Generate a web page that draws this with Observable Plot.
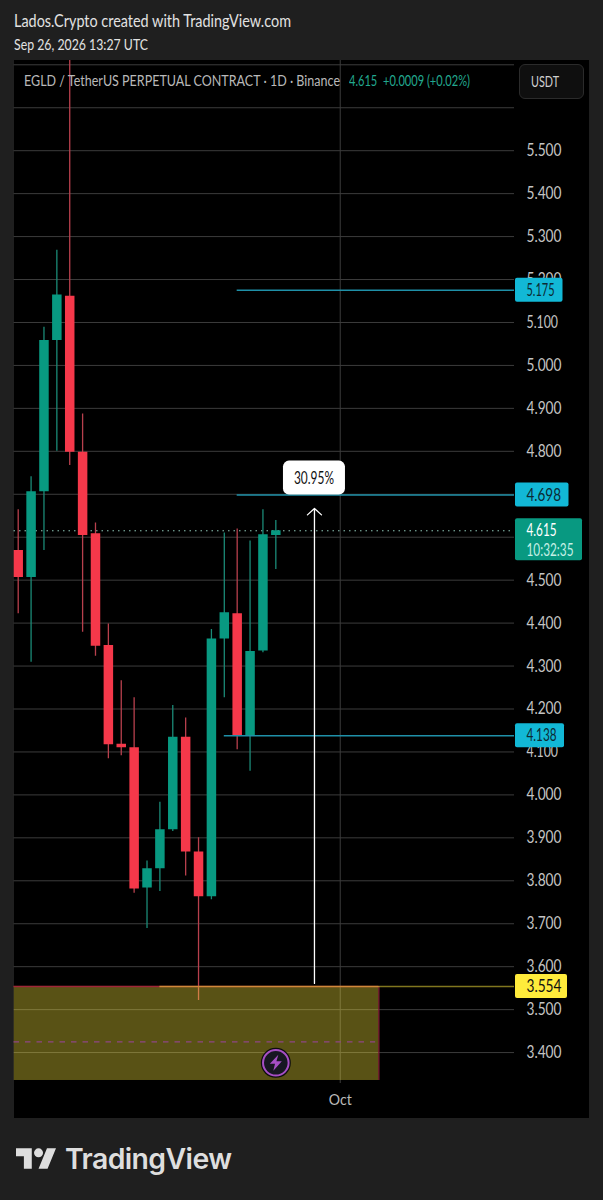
<!DOCTYPE html>
<html>
<head>
<meta charset="utf-8">
<script src="https://cdn.jsdelivr.net/npm/d3@7"></script>
<script src="https://cdn.jsdelivr.net/npm/@observablehq/plot@0.6"></script>
<style>
html,body{margin:0;padding:0;background:#1f1f1f;width:603px;height:1200px;overflow:hidden;}
#page{position:relative;width:603px;height:1200px;font-family:Lato,"Noto Sans",sans-serif;}
.abs{position:absolute;white-space:nowrap;}
.fit{transform-origin:0 50%;}
#panel{left:13.5px;top:60px;width:575.5px;height:1058px;background:#000;}
#chart{left:0;top:60px;}
#chart svg{display:block;max-width:none;}
</style>
</head>
<body>
<div id="page">
  <div class="abs fit" data-w="277" style="left:13.5px;top:11px;font-size:17px;line-height:20px;color:#e2e2e2;">Lados.Crypto created with TradingView.com</div>
  <div class="abs fit" data-w="134" style="left:13.5px;top:34px;font-size:16px;line-height:20px;color:#e2e2e2;">Sep 26, 2026 13:27 UTC</div>
  <div class="abs" id="panel"></div>
  <div class="abs" id="chart"></div>
  <div class="abs fit" data-w="316" style="left:24px;top:70px;font-size:15.5px;line-height:20px;color:#b9b9b9;">EGLD / TetherUS PERPETUAL CONTRACT · 1D · Binance</div>
  <div class="abs fit" data-w="121" style="left:349px;top:70px;font-size:15.5px;line-height:20px;color:#22a88f;">4.615 &nbsp;+0.0009 (+0.02%)</div>
  <div class="abs" style="left:519px;top:64px;width:65px;height:35px;box-sizing:border-box;border:1px solid #2b2b2b;border-radius:6px;background:#0f0f0f;"></div>
  <div class="abs fit" data-w="28" style="left:531px;top:71px;font-size:16px;line-height:20px;color:#cfcfcf;">USDT</div>
  <svg class="abs" style="left:16px;top:1148px;" width="40" height="21" viewBox="0 4 35.5 18"><path fill="#dedede" d="M14 22H7V11H0V4h14v18zM28 22h-8l7.5-18h8L28 22z"/><circle fill="#dedede" cx="20" cy="8" r="4"/></svg>
  <div class="abs" style="left:65px;top:1142px;font-family:Inter,sans-serif;font-weight:600;font-size:28.4px;line-height:34px;letter-spacing:-0.6px;color:#dedede;">TradingView</div>
</div>
<script>
// Daily candles, prices in USDT
const days   = ["2026-09-06","2026-09-07","2026-09-08","2026-09-09","2026-09-10","2026-09-11","2026-09-12","2026-09-13","2026-09-14","2026-09-15","2026-09-16","2026-09-17","2026-09-18","2026-09-19","2026-09-20","2026-09-21","2026-09-22","2026-09-23","2026-09-24","2026-09-25","2026-09-26"];
const opens  = [4.569,4.506,4.706,5.058,5.161,4.798,4.608,4.348,4.118,4.110,3.783,3.828,3.919,4.134,3.867,3.763,4.363,4.422,4.138,4.335,4.604];
const highs  = [4.664,4.741,5.089,5.268,5.760,4.887,4.633,4.398,4.266,4.226,3.846,3.983,4.208,4.179,3.900,4.385,4.610,4.619,4.591,4.664,4.639];
const lows   = [4.422,4.309,4.569,4.800,4.767,4.379,4.323,4.084,4.091,3.771,3.689,3.775,3.915,3.811,3.521,3.756,4.226,4.105,4.055,4.331,4.525];
const closes = [4.506,4.706,5.058,5.164,4.798,4.604,4.346,4.117,4.110,3.781,3.828,3.919,4.134,3.867,3.763,4.363,4.424,4.138,4.334,4.606,4.615];

const gridTicks  = [3.4,3.5,3.6,3.7,3.8,3.9,4.0,4.1,4.2,4.3,4.4,4.5,4.6,4.7,4.8,4.9,5.0,5.1,5.2,5.3,5.4,5.5,5.6,5.7];
const axisTicks  = [3.4,3.5,3.6,3.7,3.8,3.9,4.0,4.1,4.2,4.3,4.4,4.5,4.8,4.9,5.0,5.1,5.2,5.3,5.4,5.5];
const lastPrice  = 4.615;
const levels     = [{price:5.175,from:"2026-09-23"},{price:4.698,from:"2026-09-23"},{price:4.138,from:"2026-09-22"}];
const support    = {price:3.554,from:"2026-09-17"};
const zone       = {top:3.554,bottom:3.335,mid:3.425,end:"2026-10-04",midEnd:"2026-10-03T18:00"};
const move       = {day:"2026-09-29",from:3.561,to:4.667,label:"30.95%"};
const iconPoint  = {day:"2026-09-26",price:3.375};
const monthTick  = "2026-10-01";

const D = s => new Date(s.length > 10 ? s + "Z" : s + "T00:00Z");
const candles = days.map((d,i)=>({date:D(d),open:opens[i],high:highs[i],low:lows[i],close:closes[i]}));
const rise = candles.filter(d=>d.close>=d.open), fall = candles.filter(d=>d.close<d.open);
const xStart = D("2026-09-05T16:10"), xEnd = D("2026-10-14T12:43");

const GREEN="#089981", RED="#f5384a", GREENW="#1b8a77", REDW="#b8404d";
const FONT='Lato,"Noto Sans",sans-serif';
const svgEl = n => document.createElementNS("http://www.w3.org/2000/svg",n);
function attrs(el,o){for(const k in o) el.setAttribute(k,o[k]);return el;}
function label(x,y,str,fill,len,anchor){
  const t=attrs(svgEl("text"),{x,y,fill,"font-size":17,"font-family":FONT,"text-anchor":anchor||"start",textLength:len,lengthAdjust:"spacingAndGlyphs"});
  t.textContent=str; return t;
}

// price tag on the axis strip
function tag(price,fill,w,ink,text,len,h,extra,extraLen){
  return (index,scales)=>{
    const y=scales.y(price), g=svgEl("g");
    g.appendChild(attrs(svgEl("rect"),{x:515,y:y-12,width:w,height:h||24,rx:2,fill}));
    g.appendChild(label(526.5,y+6,text,ink,len));
    if(extra) g.appendChild(label(526.5,y+26,extra,"#c4efe5",extraLen));
    return g;
  };
}
function moveLabel(index,scales){
  const x=scales.x(D(move.day)), y=scales.y(levels[1].price), g=svgEl("g");
  g.appendChild(attrs(svgEl("rect"),{x:x-31,y:y-34,width:62,height:34,rx:6,fill:"#fff"}));
  g.appendChild(label(x,y-11,move.label,"#111",40,"middle"));
  return g;
}
function boltIcon(index,scales){
  const x=scales.x(D(iconPoint.day))+0.5, y=scales.y(iconPoint.price), g=svgEl("g");
  g.appendChild(attrs(svgEl("circle"),{cx:x,cy:y,r:15,fill:"#0d0d0d"}));
  g.appendChild(attrs(svgEl("circle"),{cx:x,cy:y,r:12.8,fill:"#171722",stroke:"#a64fc4","stroke-width":2}));
  g.appendChild(attrs(svgEl("path"),{d:`M${x+2.5} ${y-8}L${x-6} ${y+1}H${x-0.8}L${x-2.5} ${y+8}L${x+6} ${y-1.5}H${x+0.6}Z`,fill:"#a64fc4"}));
  return g;
}

const chart = Plot.plot({
  width:603, height:1058,
  marginLeft:13.5, marginRight:89, marginTop:0, marginBottom:35,
  style:{background:"transparent",fontFamily:FONT},
  x:{type:"utc",domain:[xStart,xEnd]},
  y:{type:"linear",domain:[3.328,5.710]},
  marks:[
    Plot.gridY(gridTicks,{stroke:"#3c3c3c",strokeOpacity:1,strokeWidth:1}),
    Plot.ruleX([D(monthTick)],{stroke:"#3c3c3c",strokeWidth:1}),
    Plot.axisY(axisTicks,{anchor:"right",tickSize:0,tickPadding:12,tickFormat:d=>d.toFixed(3),fontSize:17,color:"#c4c4c4",label:null}),
    Plot.axisX([D(monthTick)],{anchor:"bottom",tickSize:0,tickPadding:11,tickFormat:()=>"Oct",fontSize:15,color:"#b9b9b9",label:null}),
    Plot.ruleY([lastPrice],{stroke:"#8fc7b9",strokeWidth:1,strokeDasharray:"1.5,4"}),
    Plot.ruleX(rise,{x:"date",y1:"low",y2:"high",stroke:GREENW,strokeWidth:1.3,clip:true}),
    Plot.ruleX(fall,{x:"date",y1:"low",y2:"high",stroke:REDW,strokeWidth:1.3,clip:true}),
    Plot.ruleX(rise,{x:"date",y1:"open",y2:"close",stroke:GREEN,strokeWidth:9.5,clip:true}),
    Plot.ruleX(fall,{x:"date",y1:"open",y2:"close",stroke:RED,strokeWidth:9.5,clip:true}),
    Plot.rect([zone],{x1:()=>xStart,x2:d=>D(d.end),y1:"bottom",y2:"top",fill:"#ffeb3b",fillOpacity:0.35,clip:true}),
    Plot.ruleY([zone],{y:"top",x1:()=>xStart,x2:d=>D(d.end),stroke:"#a02638",strokeWidth:1.6}),
    Plot.ruleX([zone],{x:d=>D(d.end),y1:"bottom",y2:"top",stroke:"#8a2138",strokeWidth:1.2}),
    Plot.ruleY([zone],{y:"mid",x1:()=>xStart,x2:d=>D(d.midEnd),stroke:"#8e4684",strokeWidth:1.2,strokeDasharray:"5.5,6"}),
    Plot.ruleY([support],{y:"price",x1:d=>D(d.from),x2:()=>xEnd,stroke:"#ffeb3b",strokeOpacity:0.5,strokeWidth:1.6}),
    Plot.ruleY(levels,{y:"price",x1:d=>D(d.from),x2:()=>xEnd,stroke:"#1f90a8",strokeWidth:1.5}),
    Plot.arrow([move],{x:d=>D(d.day),y1:"from",y2:"to",bend:0,stroke:"#ffffff",strokeWidth:1.3,headLength:11,headAngle:95}),
    moveLabel,
    boltIcon,
    tag(5.175,"#12b8d6",47.5,"#0c2a33","5.175",28),
    tag(4.698,"#12b8d6",53.5,"#0c2a33","4.698",34.5),
    tag(4.138,"#12b8d6",49,"#0c2a33","4.138",30),
    tag(3.554,"#ffeb3b",52,"#111","3.554",35),
    tag(lastPrice,GREEN,67,"#fff","4.615",30,42,"10:32:35",47)
  ]
});
document.getElementById("chart").appendChild(chart);

// condense the tick labels to the narrow lettering of the original
chart.querySelectorAll('g[aria-label="y-axis tick label"] text').forEach(t=>{
  attrs(t,{textLength:t.textContent.includes("1")?31.5:35,lengthAdjust:"spacingAndGlyphs"});
});
chart.querySelectorAll('g[aria-label="x-axis tick label"] text').forEach(t=>{
  attrs(t,{textLength:23,lengthAdjust:"spacingAndGlyphs"});
});
document.querySelectorAll(".fit").forEach(el=>{
  el.style.transform=`scaleX(${+el.dataset.w/el.getBoundingClientRect().width})`;
});
</script>
</body>
</html>
